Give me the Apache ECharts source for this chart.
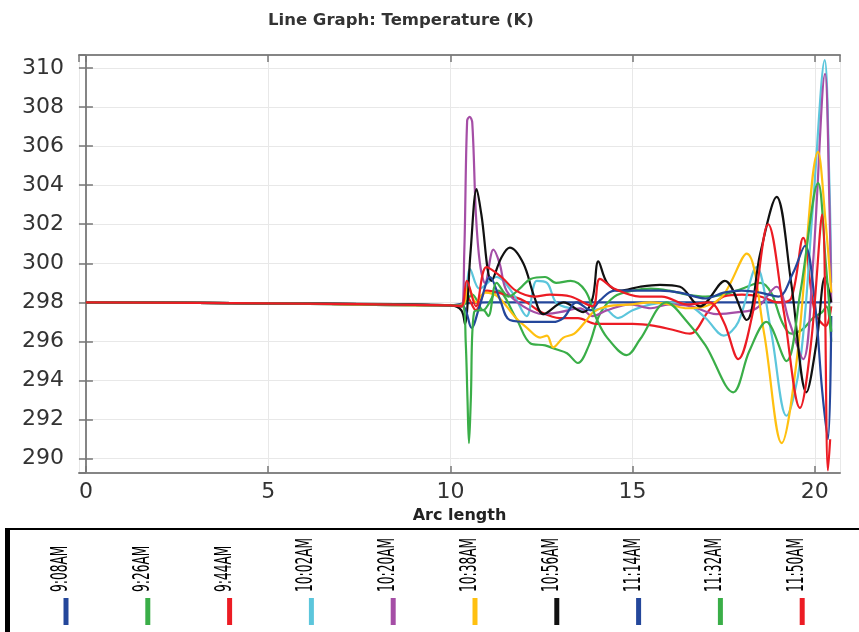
<!DOCTYPE html>
<html><head><meta charset="utf-8">
<script src="https://cdn.jsdelivr.net/npm/echarts@6/dist/echarts.min.js"></script>
<style>html,body{margin:0;padding:0;background:#fff}#c{width:859px;height:632px}</style>
</head><body><div id="c"></div>
<script>
const seriesNames = ['9:08AM','9:26AM','9:44AM','10:02AM','10:20AM','10:38AM','10:56AM','11:14AM','11:32AM','11:50AM'];
const seriesColors = ['#24479b','#3aae48','#ec1c24','#5cc6dc','#a54ea6','#ffc010','#111111','#24479b','#3aae48','#ec1c24'];

const t0908 = [[0,298.0],[5,297.95],[10.0,297.85],[10.4,297.95],[11,298.0],[15,298.0],[20.45,298.0]];
const t0926 = [[0,298.0],[5,297.95],[10.0,297.85],[10.3,297.8],[10.6,298.4],[10.9,297.6],[11.3,298.6],[11.8,297.2],[12.2,295.9],[12.6,295.8],[12.9,295.6],[13.2,295.4],[13.5,294.9],[13.8,295.8],[14.1,297.4],[14.5,298.3],[15.0,298.6],[15.5,298.7],[16.0,298.6],[16.5,298.4],[17.0,298.3],[17.5,298.4],[18.0,298.7],[18.5,299.0],[18.8,298.5],[19.1,297.0],[19.35,296.4],[19.65,296.6],[19.95,297.2],[20.2,297.5],[20.32,297.8],[20.45,296.0]];
const t0944 = [[0,298.0],[5,297.95],[10.0,297.85],[10.3,297.8],[10.45,298.3],[10.7,297.6],[11.0,298.6],[11.5,298.4],[12.0,298.1],[12.5,297.5],[13.0,297.2],[13.5,297.2],[14.0,296.9],[14.5,296.9],[15.0,296.9],[15.6,296.8],[16.1,296.6],[16.57,296.4],[17.1,297.6],[17.5,298.3],[18.0,298.4],[18.5,298.3],[19.0,298.0],[19.35,298.2],[19.68,301.3],[20.0,297.5],[20.3,296.8],[20.45,297.8]];
const t1002 = [[0,298.0],[5,297.95],[10.0,297.85],[10.35,297.9],[10.54,299.7],[10.8,298.7],[11.27,299.3],[11.7,298.5],[12.09,297.3],[12.37,299.1],[12.65,299.0],[12.9,298.0],[13.3,297.7],[13.85,297.6],[14.2,297.7],[14.6,297.2],[15.0,297.6],[15.5,297.9],[16.0,298.0],[16.5,297.9],[17.0,297.2],[17.5,296.3],[17.9,297.0],[18.4,299.8],[18.8,296.5],[19.22,292.2],[19.6,295.0],[19.95,303.0],[20.27,310.4],[20.4,304.0],[20.45,299.0]];
const t1020 = [[0,298.0],[5,297.95],[10.0,297.85],[10.3,297.8],[10.38,300.5],[10.46,307.3],[10.53,307.5],[10.6,307.2],[10.7,302.5],[10.81,300.0],[10.95,299.0],[11.18,300.7],[11.35,300.0],[11.54,298.6],[12.0,297.8],[12.55,297.4],[13.0,297.5],[13.56,297.7],[13.9,297.3],[14.3,297.6],[14.93,297.9],[15.5,297.7],[16.0,297.9],[16.6,297.8],[17.3,297.4],[17.9,297.5],[18.4,297.7],[18.95,298.8],[19.3,297.0],[19.68,295.1],[19.95,300.0],[20.28,309.7],[20.4,303.0],[20.45,298.0]];
const t1038 = [[0,298.0],[5,297.95],[10.0,297.85],[10.35,297.9],[10.49,298.8],[10.7,298.0],[10.95,298.5],[11.3,298.3],[11.8,297.2],[12.1,296.7],[12.46,296.2],[12.65,296.3],[12.82,295.7],[13.1,296.2],[13.4,296.4],[13.74,297.1],[13.92,297.5],[14.3,297.8],[15.0,297.9],[15.5,298.0],[16.0,297.9],[16.5,297.7],[17.0,297.8],[17.5,298.4],[18.13,300.5],[18.6,296.5],[19.09,290.8],[19.5,295.0],[20.09,305.7],[20.3,302.0],[20.45,298.5]];
const t1056 = [[0,298.0],[5,297.95],[10.0,297.85],[10.3,297.6],[10.4,296.9],[10.55,300.5],[10.72,303.8],[10.85,302.5],[11.13,299.1],[11.4,300.3],[11.63,300.8],[12.0,300.0],[12.3,298.3],[12.55,297.4],[13.1,298.0],[13.65,297.5],[13.9,298.2],[14.06,300.1],[14.3,299.0],[14.65,298.6],[15.2,298.8],[15.75,298.9],[16.3,298.8],[16.85,297.8],[17.53,299.1],[18.13,297.1],[18.5,300.5],[18.95,303.4],[19.35,299.0],[19.77,293.4],[20.05,296.0],[20.28,299.3],[20.45,298.0]];
const t1114 = [[0,298.0],[5,297.95],[10.0,297.85],[10.35,297.8],[10.58,296.7],[10.8,297.8],[11.09,299.3],[11.35,298.2],[11.63,297.1],[12.2,297.0],[12.8,297.0],[13.1,297.2],[13.46,298.0],[13.85,297.6],[14.1,298.1],[14.5,298.6],[15.0,298.6],[15.75,298.6],[16.3,298.5],[17.0,298.2],[17.5,298.5],[18.0,298.6],[18.5,298.5],[19.0,298.3],[19.4,299.5],[19.73,300.9],[20.0,298.0],[20.2,293.5],[20.36,291.0],[20.45,297.3]];
const t1132 = [[0,298.0],[5,297.95],[10.0,297.85],[10.35,297.8],[10.42,296.0],[10.47,293.0],[10.51,290.8],[10.56,293.0],[10.65,297.5],[10.9,297.6],[11.04,297.3],[11.27,299.0],[11.6,298.3],[11.9,298.7],[12.2,299.2],[12.6,299.3],[12.9,299.0],[13.3,299.1],[13.7,298.6],[14.0,297.2],[14.3,296.2],[14.84,295.3],[15.2,296.1],[15.93,298.0],[16.5,297.0],[17.0,295.8],[17.76,293.4],[18.2,295.5],[18.67,297.0],[19.22,295.0],[19.6,298.5],[20.09,304.1],[20.3,300.0],[20.45,296.5]];
const t1150 = [[0,298.0],[5,297.95],[10.0,297.85],[10.3,297.8],[10.45,299.1],[10.7,297.8],[10.99,299.8],[11.4,299.3],[11.8,298.6],[12.3,298.3],[12.73,298.4],[13.3,298.3],[13.9,297.8],[14.1,299.2],[14.5,298.7],[15.2,298.3],[15.8,298.3],[16.5,297.9],[17.1,298.0],[17.5,297.0],[17.9,295.1],[18.3,297.5],[18.72,302.0],[19.15,297.5],[19.59,292.6],[19.9,296.0],[20.2,302.5],[20.36,289.4],[20.42,291.0]];
const seriesData = [t0908,t0926,t0944,t1002,t1020,t1038,t1056,t1114,t1132,t1150];

const xMin = -0.19, xMax = 20.69, yMin = 289.27, yMax = 310.66;

const chart = echarts.init(document.getElementById('c'));
const labelFont = {fontSize:22, color:'#333', fontFamily:'DejaVu Sans'};
const axLine = {show:true, lineStyle:{color:'#858585', width:2}};
const axTick = {show:true, inside:true, length:7, lineStyle:{color:'#777', width:1.5}};
const split = {show:true, lineStyle:{color:'#e8e8e8', width:1}};

const graphics = [
  {type:'rect', shape:{x:5,y:528,width:854,height:2}, style:{fill:'#000'}},
  {type:'rect', shape:{x:5,y:528,width:5,height:104}, style:{fill:'#000'}}
];
seriesNames.forEach((n,i)=>{
  const cx = 66 + i*81.8;
  graphics.push({type:'text', x: cx-5, y: 592, rotation: Math.PI/2, scaleX: 0.8, scaleY: 1.35,
    style:{text:n, fontSize:17, fontFamily:'"Liberation Sans Narrow","DejaVu Sans Condensed","Arial Narrow",sans-serif', fill:'#000', align:'left', verticalAlign:'middle'}});
  graphics.push({type:'rect', shape:{x:cx-2.5, y:598, width:5, height:27}, style:{fill:seriesColors[i]}});
});

chart.setOption({
  animation:false,
  backgroundColor:'#fff',
  title:{text:'Line Graph: Temperature (K)', left:263, top:7, textStyle:{fontSize:16.5, fontWeight:'bold', color:'#333', fontFamily:'DejaVu Sans'}},
  grid:{left:79, right:19, top:55, bottom:159},
  xAxis:[
    {type:'value', min:xMin, max:xMax, splitNumber:5, position:'bottom', axisLine:axLine, axisTick:axTick,
     axisLabel:Object.assign({margin:8, showMinLabel:false, showMaxLabel:false}, labelFont), splitLine:split,
     name:'Arc length', nameLocation:'middle', nameGap:31, nameTextStyle:{fontSize:16, fontWeight:'bold', color:'#222', fontFamily:'DejaVu Sans'}},
    {type:'value', min:xMin, max:xMax, splitNumber:5, position:'top', axisLine:axLine, axisTick:axTick, axisLabel:{show:false}, splitLine:{show:false}}
  ],
  yAxis:[
    {type:'value', min:yMin, max:yMax, splitNumber:10, position:'left', axisLine:axLine, axisTick:axTick,
     axisLabel:Object.assign({margin:15, showMinLabel:false, showMaxLabel:false}, labelFont), splitLine:split},
    {type:'value', min:yMin, max:yMax, splitNumber:10, position:'right', axisLine:axLine, axisTick:axTick, axisLabel:{show:false}, splitLine:{show:false}}
  ],
  series: seriesData.map((d,i)=>({
    name:seriesNames[i], type:'line', data:d, xAxisIndex:0, yAxisIndex:0, showSymbol:false, smooth:0.35,
    lineStyle:{width:2.2, color:seriesColors[i]}, itemStyle:{color:seriesColors[i]}, clip:true
  })),
  graphic: graphics
});
</script></body></html>
